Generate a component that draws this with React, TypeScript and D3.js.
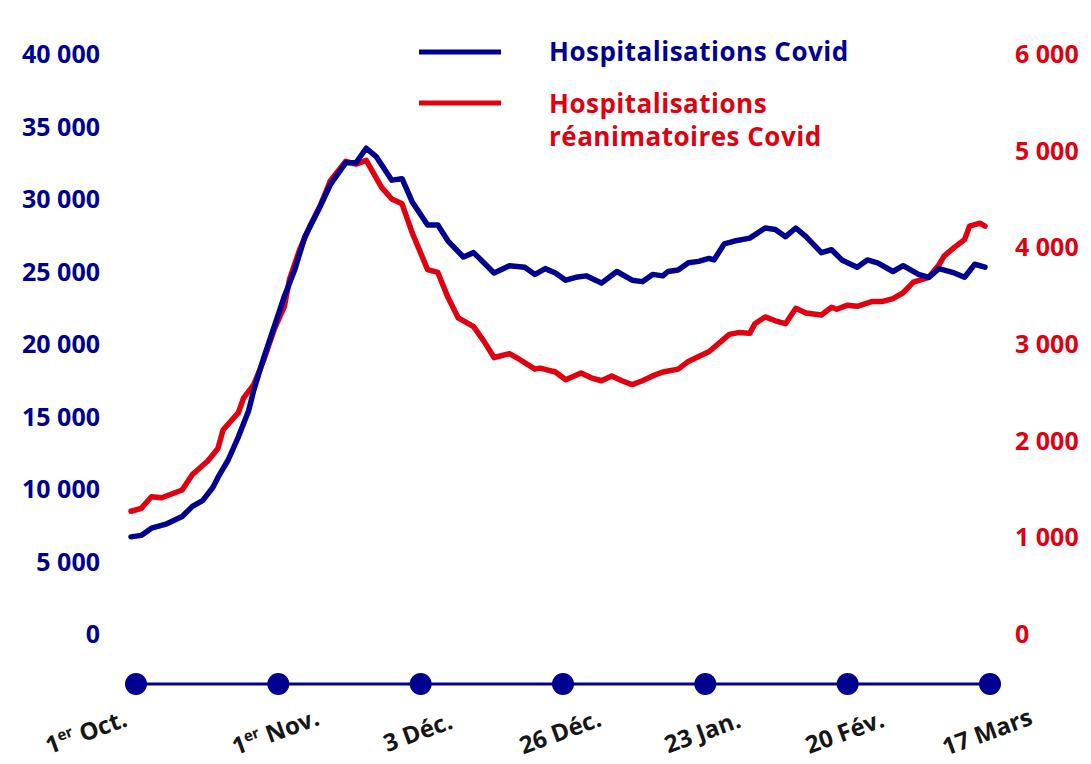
import React from "react";
import * as d3 from "d3";

const startDate = new Date(2020, 9, 1);
const endDate = new Date(2021, 2, 17);

const blueDays = [0,2,4,7,10,12,14,16,17,19,21,23,24,26,28,30,32,34,36,37,39,42,44,46,48,51,53,55,58,60,62,65,67,69,71,74,77,79,81,83,85,87,89,92,95,98,100,102,104,105,107,109,111,113,114,116,118,121,124,126,128,130,132,135,137,139,142,144,146,149,151,154,156,158,161,163,165,167];
const blueValues = [6700,6800,7300,7600,8100,8800,9200,10100,10800,12000,13600,15400,16800,19100,21200,23300,25100,27400,28800,29500,31000,32500,32500,33500,32900,31300,31400,29800,28200,28200,27100,26000,26300,25600,24900,25400,25300,24800,25200,24900,24400,24600,24700,24200,25000,24400,24300,24800,24700,25000,25100,25600,25700,25900,25800,26900,27100,27300,28000,27900,27400,28000,27400,26300,26500,25800,25300,25800,25600,25000,25400,24800,24600,25200,24900,24600,25500,25300];

const redDays = [0,2,4,6,10,12,15,17,18,21,22,24,26,28,30,31,33,35,37,39,42,44,46,49,51,53,55,58,60,62,64,67,69,71,74,76,79,80,83,85,88,90,92,94,96,98,100,102,104,107,109,111,113,115,117,119,121,122,124,126,128,130,132,135,137,138,140,142,145,147,149,151,153,156,158,159,161,163,164,166,167];
const redValues = [1270,1300,1420,1410,1490,1650,1790,1920,2110,2290,2440,2580,2840,3150,3390,3670,3980,4220,4430,4690,4890,4860,4900,4620,4500,4450,4150,3770,3740,3480,3270,3180,3030,2860,2900,2840,2740,2750,2710,2630,2700,2650,2620,2670,2620,2580,2620,2670,2710,2740,2820,2870,2920,3010,3100,3120,3110,3210,3280,3240,3210,3370,3320,3300,3380,3360,3400,3390,3440,3440,3470,3530,3640,3690,3820,3910,4000,4080,4220,4250,4220];

const leftTicks = [0, 5000, 10000, 15000, 20000, 25000, 30000, 35000, 40000];
const rightTicks = [0, 1000, 2000, 3000, 4000, 5000, 6000];

const timelineMain = ["1", "1", "3 Déc.", "26 Déc.", "23 Jan.", "20 Fév.", "17 Mars"];
const timelineSup = ["er", "er", "", "", "", "", ""];
const timelineTail = [" Oct.", " Nov.", "", "", "", "", ""];

const seriesNames = ["Hospitalisations Covid", "Hospitalisations|réanimatoires Covid"];

const BLUE = "#000091";
const RED = "#E1000F";
const W = 1091;
const H = 764;
const FONT = "'Open Sans', 'DejaVu Sans', sans-serif";

const fmt = (v: number) => {
  const s = String(v);
  return s.length > 3 ? s.slice(0, s.length - 3) + " " + s.slice(-3) : s;
};

export default function App() {
  const x = d3.scaleTime().domain([startDate, endDate]).range([131, 985]);
  const yL = d3.scaleLinear().domain([0, 40000]).range([634, 54]);
  const yR = d3.scaleLinear().domain([0, 6000]).range([634, 54]);
  const dayDate = (d: number) => d3.timeDay.offset(startDate, d);

  const blueData = blueDays.map((d, i) => [dayDate(d), blueValues[i]] as [Date, number]);
  const redData = redDays.map((d, i) => [dayDate(d), redValues[i]] as [Date, number]);

  const blueLine = d3.line<[Date, number]>().x(d => x(d[0])).y(d => yL(d[1]));
  const redLine = d3.line<[Date, number]>().x(d => x(d[0])).y(d => yR(d[1]));

  const tl = d3.scalePoint<number>().domain(timelineMain.map((_, i) => i)).range([136, 990]).padding(0);
  const tlY = 684;

  return (
    <svg width={W} height={H} style={{ position: "absolute", left: 0, top: 0, background: "#fff" }} fontFamily={FONT}>
      <defs>
        <radialGradient id="shade" cx="0.5" cy="0" r="0.5" gradientUnits="objectBoundingBox">
          <stop offset="0" stopColor="#d2d2d2" />
          <stop offset="0.5" stopColor="#e6e6e6" />
          <stop offset="1" stopColor="#ffffff" stopOpacity="0" />
        </radialGradient>
      </defs>
      <rect x={0} y={0} width={W} height={H} fill="#fff" />
      <rect x={140} y={-210} width={900} height={420} fill="url(#shade)" />

      {/* left axis */}
      {leftTicks.map(t => (
        <text key={"l" + t} x={100} y={yL(t)} dy="0.36em" textAnchor="end" fill={BLUE} fontSize={25} fontWeight={700}>
          {fmt(t)}
        </text>
      ))}
      {/* right axis */}
      {rightTicks.map(t => (
        <text key={"r" + t} x={1015} y={yR(t)} dy="0.36em" textAnchor="start" fill={RED} fontSize={25} fontWeight={700}>
          {fmt(t)}
        </text>
      ))}

      {/* series */}
      <path d={redLine(redData) || ""} fill="none" stroke={RED} strokeWidth={5.5} strokeLinejoin="round" strokeLinecap="round" />
      <path d={blueLine(blueData) || ""} fill="none" stroke={BLUE} strokeWidth={5.5} strokeLinejoin="round" strokeLinecap="round" />

      {/* legend */}
      <line x1={419} x2={501} y1={52} y2={52} stroke={BLUE} strokeWidth={5} />
      <text x={549} y={52} dy="0.36em" fill={BLUE} fontSize={26} fontWeight={700} letterSpacing={0.5}>{seriesNames[0]}</text>
      <line x1={419} x2={501} y1={103} y2={103} stroke={RED} strokeWidth={5} />
      {seriesNames[1].split("|").map((s, i) => (
        <text key={s} x={549} y={104 + i * 33} dy="0.36em" fill={RED} fontSize={26} fontWeight={700} letterSpacing={0.5}>{s}</text>
      ))}

      {/* timeline */}
      <line x1={tl(0)} x2={tl(timelineMain.length - 1)} y1={tlY} y2={tlY} stroke={BLUE} strokeWidth={3} />
      {timelineMain.map((_, i) => (
        <circle key={"c" + i} cx={tl(i)} cy={tlY} r={11} fill={BLUE} />
      ))}
      {timelineMain.map((m, i) => {
        const cx = (tl(i) as number) - (i === 0 ? 47 : 0);
        return (
          <text key={"t" + i} transform={`translate(${cx},${tlY + 56}) rotate(-20)`} textAnchor="middle" fill="#161616" fontSize={24} fontWeight={700}>
            {m}
            {timelineSup[i] && <tspan fontSize={15} dy={-9}>{timelineSup[i]}</tspan>}
            {timelineTail[i] && <tspan dy={timelineSup[i] ? 9 : 0}>{timelineTail[i]}</tspan>}
          </text>
        );
      })}
    </svg>
  );
}
